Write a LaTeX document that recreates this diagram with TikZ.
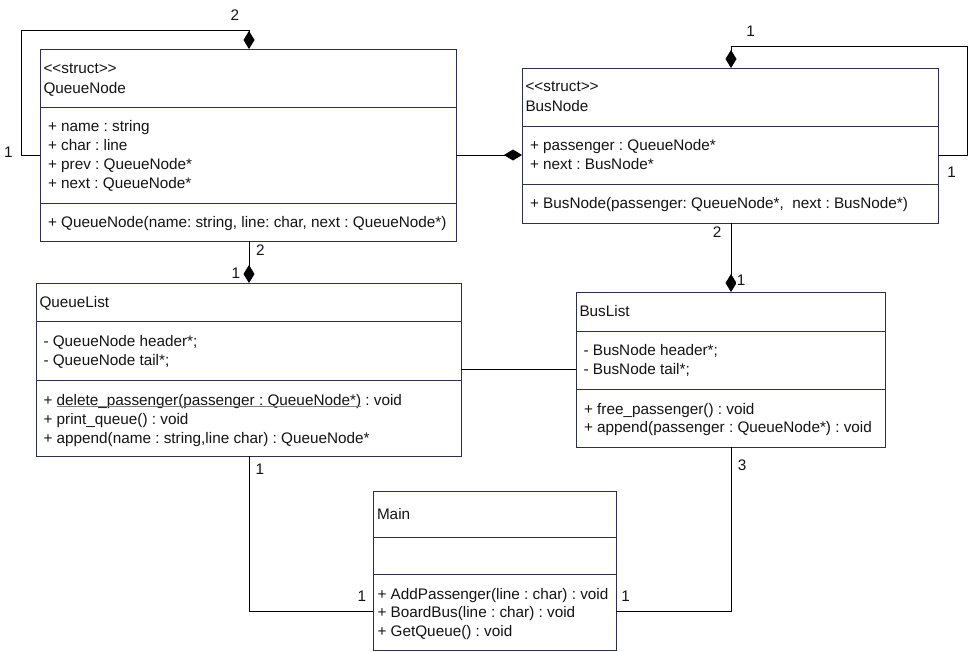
\documentclass[tikz,border=0pt]{standalone}
\usepackage{fontspec}
\setmainfont{Liberation Sans}
\usetikzlibrary{arrows.meta}
\definecolor{boxc}{RGB}{45,47,80}
\definecolor{txtc}{RGB}{20,20,20}
\newcommand\lts{<\kern0pt<}
\newcommand\gts{>\kern0pt>}
\newcommand\fs{\fontsize{15.3}{19}\selectfont\frenchspacing}
\tikzset{
  classbox/.style={draw=boxc, line width=1pt, rectangle, anchor=north west, inner sep=0pt, outer sep=0pt},
  divider/.style={draw=boxc, line width=1pt},
  txt/.style={anchor=base west, inner sep=0pt, outer sep=0pt, font=\fs, text=txtc},
  lbl/.style={anchor=base, fill=white, inner sep=1pt, font=\fs, text=txtc},
  conn/.style={draw=black, line width=1pt},
  comp/.style={conn, -{Diamond[length=18pt,width=11pt]}},
}
\begin{document}
\begin{tikzpicture}[x=1pt,y=-1pt]
\useasboundingbox[fill=white] (0,0) rectangle (974,651);

% ---------- QueueNode ----------
\node[classbox, minimum width=416pt, minimum height=192pt] (qn) at (40,49) {};
\draw[divider] (qn.west |- 0,107) -- (qn.east |- 0,107);
\draw[divider] (qn.west |- 0,203) -- (qn.east |- 0,203);
\node[txt] (qn-st) at (43.5,73.3) {\lts struct\gts};
\node[txt] (qn-t) at (43.5,93) {QueueNode};
\node[txt] (qn-a1) at (48,131.5) {+ name : string};
\node[txt] (qn-a2) at (48,150.5) {+ char : line};
\node[txt] (qn-a3) at (48,169.5) {+ prev : QueueNode*};
\node[txt] (qn-a4) at (48,188.3) {+ next : QueueNode*};
\node[txt] (qn-m1) at (48,227.7) {+ QueueNode(name: string, line: char, next : QueueNode*)};

% ---------- BusNode ----------
\node[classbox, minimum width=416pt, minimum height=155pt] (bn) at (522,68) {};
\draw[divider] (bn.west |- 0,126) -- (bn.east |- 0,126);
\draw[divider] (bn.west |- 0,184) -- (bn.east |- 0,184);
\node[txt] (bn-st) at (525.5,91.7) {\lts struct\gts};
\node[txt] (bn-t) at (525.5,111) {BusNode};
\node[txt] (bn-a1) at (530,150.5) {+ passenger : QueueNode*};
\node[txt] (bn-a2) at (530,169.3) {+ next : BusNode*};
\node[txt] (bn-m1) at (530,208.3) {+ BusNode(passenger: QueueNode*,\ \ next : BusNode*)};

% ---------- QueueList ----------
\node[classbox, minimum width=425pt, minimum height=173pt] (ql) at (36,283) {};
\draw[divider] (ql.west |- 0,321) -- (ql.east |- 0,321);
\draw[divider] (ql.west |- 0,380) -- (ql.east |- 0,380);
\node[txt] (ql-t) at (39.5,307.7) {QueueList};
\node[txt] (ql-a1) at (43.5,346.7) {- QueueNode header*;};
\node[txt] (ql-a2) at (43.5,365.7) {- QueueNode tail*;};
\node[txt] (ql-m1a) at (43.5,405) {+\hbox{\ }};
\node[txt] (ql-m1b) at (ql-m1a.base east) {delete\_passenger(passenger : QueueNode*)};
\node[txt] (ql-m1c) at (ql-m1b.base east) {\hbox{\ }: void};
\node[txt] (ql-m2) at (43.5,424) {+ print\_queue() : void};
\node[txt] (ql-m3) at (43.5,443) {+ append(name : string,line char) : QueueNode*};
\draw[gray, line width=1pt] ([yshift=-1.8pt]ql-m1b.base west) -- ([yshift=-1.8pt]ql-m1b.base east);

% ---------- BusList ----------
\node[classbox, minimum width=309pt, minimum height=155pt] (bl) at (576,292) {};
\draw[divider] (bl.west |- 0,331) -- (bl.east |- 0,331);
\draw[divider] (bl.west |- 0,389) -- (bl.east |- 0,389);
\node[txt] (bl-t) at (579.5,316.7) {BusList};
\node[txt] (bl-a1) at (583.5,355.7) {- BusNode header*;};
\node[txt] (bl-a2) at (583.5,374.7) {- BusNode tail*;};
\node[txt] (bl-m1) at (584,414) {+ free\_passenger() : void};
\node[txt] (bl-m2) at (584,432.7) {+ append(passenger : QueueNode*) : void};

% ---------- Main ----------
\node[classbox, minimum width=243pt, minimum height=159pt] (mn) at (373,491) {};
\draw[divider] (mn.west |- 0,537) -- (mn.east |- 0,537);
\draw[divider] (mn.west |- 0,574) -- (mn.east |- 0,574);
\node[txt] (mn-t) at (377,519) {Main};
\node[txt] (mn-m1) at (377.5,599) {+ AddPassenger(line : char) : void};
\node[txt] (mn-m2) at (377.5,617.7) {+ BoardBus(line : char) : void};
\node[txt] (mn-m3) at (377.5,636.7) {+ GetQueue() : void};

% ---------- connectors ----------
\draw[comp] (qn.west |- 0,155) -- (21,155) -- (21,30) -- (249,30) -- (qn.north -| 249,0);
\draw[comp] (bn.east |- 0,155) -- (967,155) -- (967,46) -- (731,46) -- (bn.north -| 731,0);
\draw[comp] (qn.east |- 0,155) -- (bn.west |- 0,155);
\draw[comp] (qn.south -| 249,0) -- (ql.north -| 249,0);
\draw[comp] (bn.south -| 731,0) -- (bl.north -| 731,0);
\draw[conn] (ql.east |- 0,369) -- (bl.west |- 0,369);
\draw[conn] (ql.south -| 249,0) |- (mn.west |- 0,611);
\draw[conn] (bl.south -| 731,0) |- (mn.east |- 0,611);

% ---------- multiplicities ----------
\node[lbl] (l1) at (235,20) {2};
\node[lbl] (l2) at (8.5,157) {1};
\node[lbl] (l3) at (750.5,36) {1};
\node[lbl] (l4) at (951.5,177) {1};
\node[lbl] (l5) at (260.5,255) {2};
\node[lbl] (l6) at (236,278) {1};
\node[lbl] (l7) at (717,237) {2};
\node[lbl] (l8) at (741,285) {1};
\node[lbl] (l9) at (742,470) {3};
\node[lbl] (l10) at (260,474) {1};
\node[lbl] (l11) at (362,601) {1};
\node[lbl] (l12) at (625.5,601) {1};
\end{tikzpicture}
\end{document}
